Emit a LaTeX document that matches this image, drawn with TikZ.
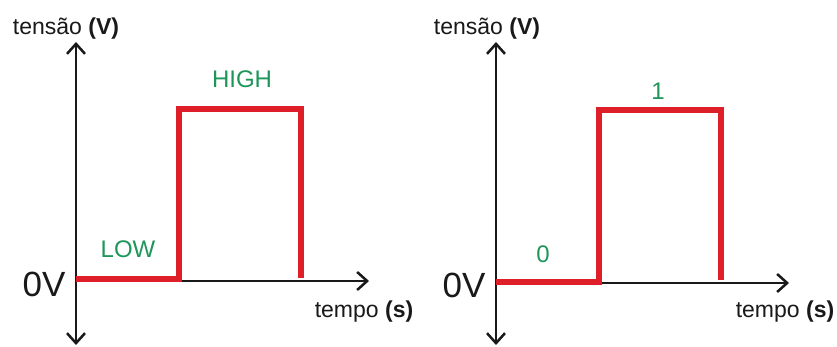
\documentclass[tikz,border=0pt]{standalone}
\usepackage{fontspec}
\setmainfont{Liberation Sans}
\usetikzlibrary{arrows.meta}
\definecolor{sigred}{RGB}{222,30,40}
\definecolor{lvlgreen}{RGB}{30,150,90}
\definecolor{axisgray}{RGB}{25,25,25}
\tikzset{
  axisline/.style={draw=axisgray, line width=2.5pt, -{Straight Barb[length=10pt,width=18pt,line width=2.5pt]}},
  signal/.style={draw=sigred, line width=6pt, line join=miter},
  axlabel/.style={anchor=base, inner sep=0pt, text=axisgray, font=\fontsize{23}{27}\selectfont},
  zerolabel/.style={anchor=base, inner sep=0pt, text=axisgray, font=\fontsize{35}{40}\selectfont},
  lvllabel/.style={anchor=base, inner sep=0pt, text=lvlgreen, font=\fontsize{24}{28}\selectfont}
}
\begin{document}
\begin{tikzpicture}[x=1pt,y=-1pt]
\useasboundingbox[fill=white] (0,0) rectangle (837,347);
% ---- left graph ----
\coordinate (o1) at (76,281);
\coordinate (yt1) at (76,42);
\coordinate (yb1) at (76,345);
\coordinate (xe1) at (369,281);
\coordinate (a1) at (76,279);
\coordinate (b1) at (179,279);
\coordinate (c1) at (179,109);
\coordinate (d1) at (301,109);
\coordinate (e1) at (301,278);
\draw[axisline] (o1) -- (yt1);
\draw[axisline] (o1) -- (yb1);
\draw[axisline] (o1) -- (xe1);
\draw[signal] (a1) -- (b1) -- (c1) -- (d1) -- (e1);
\node[axlabel] (tv1) at (66,35) {tensão \textbf{(V)}};
\node[axlabel] (tp1) at (364,317) {tempo \textbf{(s)}};
\node[zerolabel] (zv1) at (44,296) {0V};
\node[lvllabel] (low) at (128,258) {LOW};
\node[lvllabel] (high) at (242,88) {HIGH};
% ---- right graph ----
\coordinate (o2) at (496,283);
\coordinate (yt2) at (496,42);
\coordinate (yb2) at (496,345);
\coordinate (xe2) at (789,283);
\coordinate (a2) at (496,282);
\coordinate (b2) at (599,282);
\coordinate (c2) at (599,110);
\coordinate (d2) at (721,110);
\coordinate (e2) at (721,280);
\draw[axisline] (o2) -- (yt2);
\draw[axisline] (o2) -- (yb2);
\draw[axisline] (o2) -- (xe2);
\draw[signal] (a2) -- (b2) -- (c2) -- (d2) -- (e2);
\node[axlabel] (tv2) at (487,35) {tensão \textbf{(V)}};
\node[axlabel] (tp2) at (785,317) {tempo \textbf{(s)}};
\node[zerolabel] (zv2) at (464,297) {0V};
\node[lvllabel] (zero) at (543,262) {0};
\node[lvllabel] (one) at (658,100) {1};
\end{tikzpicture}
\end{document}
